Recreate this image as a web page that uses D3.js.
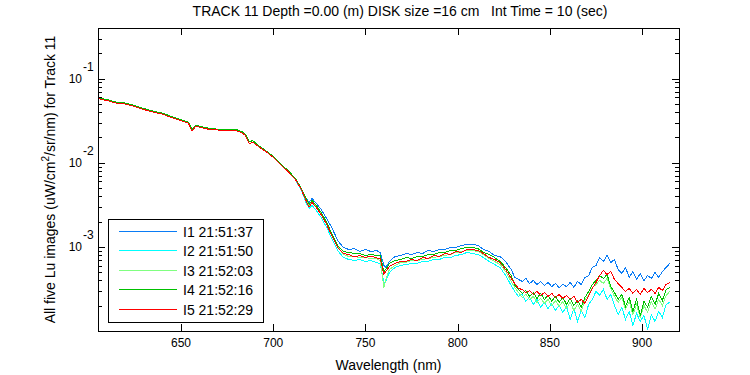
<!DOCTYPE html>
<html>
<head>
<meta charset="utf-8">
<script src="https://cdn.jsdelivr.net/npm/d3@7"></script>
<style>
body { margin: 0; background: #fff; }
text { font-family: "Liberation Sans", Arial, Helvetica, sans-serif; font-size: 14px; fill: #000; }
text.tick { font-size: 12px; }
</style>
</head>
<body>
<div class="chart"></div>
<script>
// wavelength (nm)
var wavelength = [
  605,610,615,620,625,630,635,640,645,650,654,656,658,662,666,670,675,680,683,685,687,689,692,696,700,704,708,712,715,718,719.5,721,723,726,729,732,735,
  738,741,744,747,750,753,756,758,760,761,763,766,769,772,775,778,781,784,787,790,793,796,799,802,805,808,811,814,817,820,823,826,829,
  831,833,835,837,839,841,843,845,847,849,851,853,855,857,859,861,863,865,867,869,871,873,875,877,879,881,883,885,887,889,891,893,895,897,899,901,903,905,907,909,911,913,915
];

// Lu (uW/cm^2/sr/nm), one list per image
var lu1 = [
  .0579,.0548,.0512,.0498,.0465,.0428,.0400,.0378,.0344,.0317,.0296,.0238,.0272,.0258,.0248,.0245,.0245,.0241,.0228,.0210,.0169,.0176,.0156,.0136,.0116,.00951,.00786,.00632,
  .00507,.00376,.00337,.00376,.00337,.00278,.00217,.00165,.00119,
  .000982,.000931,.000956,.000881,.000931,.000881,.000906,.000858,.000601,.000569,.000671,
  .000769,.000790,.000834,.000812,.000858,.000834,.000906,.000881,.000931,.000931,.000982,.000982,.00104,.00107,.00107,.00104,.000931,.000881,.000790,.000769,.000671,.000539,
  .000433,.000410,.000388,.000421,.000367,.000399,.000357,.000388,.000348,.000378,.000338,.000367,.000329,.000357,.000338,.000378,.000329,.000388,.000357,.000433,
  .000457,.000569,.000601,.000748,.000671,.000790,.000652,.000708,.000539,.000483,.000569,.000433,.000510,.000410,.000483,.000399,.000457,.000421,.000496,.000433,.000510,.000569,.000635
];
var lu2 = [
  .0590,.0548,.0512,.0498,.0465,.0428,.0400,.0378,.0344,.0317,.0296,.0238,.0272,.0258,.0248,.0245,.0245,.0241,.0228,.0210,.0169,.0176,.0156,.0136,.0116,.00951,.00786,.00632,
  .00480,.00328,.00286,.00310,.00278,.00223,.00170,.00122,.000906,
  .000748,.000708,.000689,.000708,.000671,.000689,.000652,.000635,.000378,.000388,.000496,
  .000569,.000601,.000618,.000635,.000635,.000671,.000671,.000708,.000708,.000748,.000748,.000790,.000812,.000858,.000834,.000812,.000748,.000671,.000618,.000569,.000457,.000348,
  .000295,.000258,.000272,.000225,.000251,.000207,.000237,.000191,.000219,.000185,.000213,.000176,.000201,.000166,.000196,.000137,.000185,.000130,.000176,.000145,
  .000207,.000237,.000295,.000265,.000312,.000237,.000272,.000201,.000157,.000191,.000137,.000171,.000116,.000162,.000130,.000153,.000104,.000157,.000130,.000171,.000145,.000207,.000219
];
var lu3 = [
  .0595,.0563,.0526,.0512,.0478,.0440,.0411,.0389,.0353,.0326,.0304,.0248,.0280,.0265,.0255,.0251,.0251,.0248,.0235,.0216,.0179,.0183,.0160,.0139,.0119,.00977,.00808,.00655,.00507,
  .00356,.00310,.00346,.00310,.00249,.00190,.00137,.00101,
  .000812,.000769,.000769,.000748,.000748,.000728,.000728,.000689,.000329,.000410,.000539,
  .000601,.000652,.000652,.000689,.000689,.000708,.000728,.000748,.000769,.000790,.000812,.000858,.000881,.000906,.000906,.000881,.000812,.000728,.000671,.000618,.000510,.000388,
  .000329,.000287,.000251,.000272,.000237,.000258,.000219,.000244,.000213,.000237,.000201,.000231,.000196,.000225,.000185,.000219,.000176,.000207,.000171,.000237,
  .000265,.000329,.000357,.000399,.000367,.000421,.000320,.000258,.000219,.000251,.000181,.000225,.000157,.000207,.000145,.000201,.000166,.000225,.000181,.000237,.000201,.000265,.000295
];
var lu4 = [
  .0595,.0563,.0526,.0512,.0478,.0440,.0411,.0389,.0353,.0326,.0304,.0248,.0280,.0265,.0255,.0251,.0251,.0248,.0235,.0216,.0179,.0183,.0160,.0139,.0119,.00977,.00808,.00655,.00507,
  .00366,.00319,.00356,.00319,.00256,.00195,.00140,.00104,
  .000881,.000858,.000834,.000834,.000790,.000812,.000790,.000790,.000510,.000539,.000635,
  .000689,.000708,.000748,.000728,.000769,.000769,.000812,.000812,.000858,.000858,.000906,.000906,.000956,.000982,.000982,.000956,.000858,.000812,.000748,.000671,.000569,.000457,
  .000348,.000312,.000280,.000303,.000258,.000287,.000244,.000280,.000237,.000265,.000225,.000258,.000219,.000251,.000207,.000244,.000201,.000231,.000191,.000251,
  .000295,.000357,.000399,.000457,.000421,.000470,.000338,.000287,.000237,.000272,.000196,.000251,.000171,.000237,.000153,.000225,.000191,.000258,.000207,.000280,.000231,.000312,.000329
];
var lu5 = [
  .0579,.0548,.0512,.0498,.0465,.0428,.0400,.0378,.0344,.0317,.0296,.0238,.0272,.0258,.0248,.0245,.0245,.0241,.0228,.0210,.0169,.0176,.0156,.0136,.0116,.00951,.00786,.00632,
  .00494,.00346,.00298,.00337,.00302,.00242,.00184,.00133,.000982,
  .000834,.000812,.000758,.000790,.000748,.000780,.000738,.000728,.000470,.000510,.000585,
  .000635,.000671,.000671,.000708,.000689,.000748,.000728,.000790,.000769,.000834,.000812,.000881,.000858,.000931,.000931,.000906,.000834,.000748,.000708,.000652,.000539,.000421,
  .000367,.000320,.000312,.000287,.000303,.000272,.000295,.000265,.000287,.000258,.000280,.000251,.000272,.000244,.000265,.000237,.000258,.000219,.000237,.000213,
  .000265,.000320,.000378,.000457,.000524,.000470,.000510,.000410,.000367,.000329,.000295,.000320,.000280,.000312,.000272,.000320,.000287,.000312,.000280,.000329,.000303,.000357,.000378
];

var seriesNames = ["I1 21:51:37", "I2 21:51:50", "I3 21:52:03", "I4 21:52:16", "I5 21:52:29"];
var seriesColors = ["#0a7cf5", "#00ffff", "#80ff80", "#00c000", "#ff0000"];
var xTickValues = [650, 700, 750, 800, 850, 900];
var yTickPowers = [-3, -2, -1];

var width = 750, height = 375;
var margin = {top: 28, right: 71, bottom: 44, left: 98};
var plotW = width - margin.left - margin.right,
    plotH = height - margin.top - margin.bottom;

var svg = d3.select(".chart").append("svg")
  .attr("width", width)
  .attr("height", height);

var x = d3.scaleLinear().domain([605, 920]).range([margin.left, margin.left + plotW]);
var y = d3.scaleLog().domain([1e-4, 0.4]).range([margin.top + plotH, margin.top]);

svg.append("clipPath").attr("id", "plotclip")
  .append("rect")
  .attr("x", margin.left).attr("y", margin.top)
  .attr("width", plotW).attr("height", plotH);

// series
var allSeries = [lu1, lu2, lu3, lu4, lu5];
var line = d3.line()
  .x(function(d) { return x(d[0]); })
  .y(function(d) { return y(d[1]); });

svg.append("g").attr("clip-path", "url(#plotclip)")
  .selectAll("path")
  .data(allSeries)
  .enter().append("path")
  .attr("d", function(s) { return line(wavelength.map(function(w, i) { return [w, s[i]]; })); })
  .attr("fill", "none")
  .attr("stroke", function(d, i) { return seriesColors[i]; })
  .attr("stroke-width", 1)
  .attr("shape-rendering", "crispEdges");

// axes (ticks inward, matlab style)
function styleAxis(g) {
  g.select(".domain").remove();
  g.selectAll("line").attr("stroke", "#000").attr("shape-rendering", "crispEdges");
  g.selectAll("text").remove();
}
var majors = yTickPowers.map(function(p) { return Math.pow(10, p); });
var minors = y.ticks().filter(function(t) { return majors.indexOf(t) < 0; });

svg.append("g").attr("transform", "translate(0," + (margin.top + plotH) + ")")
  .call(d3.axisBottom(x).tickValues(xTickValues).tickSize(-7)).call(styleAxis);
svg.append("g").attr("transform", "translate(0," + margin.top + ")")
  .call(d3.axisTop(x).tickValues(xTickValues).tickSize(-7)).call(styleAxis);
svg.append("g").attr("transform", "translate(" + margin.left + ",0)")
  .call(d3.axisLeft(y).tickValues(majors).tickSize(-7)).call(styleAxis);
svg.append("g").attr("transform", "translate(" + margin.left + ",0)")
  .call(d3.axisLeft(y).tickValues(minors).tickSize(-4)).call(styleAxis);
svg.append("g").attr("transform", "translate(" + (margin.left + plotW) + ",0)")
  .call(d3.axisRight(y).tickValues(majors).tickSize(-7)).call(styleAxis);
svg.append("g").attr("transform", "translate(" + (margin.left + plotW) + ",0)")
  .call(d3.axisRight(y).tickValues(minors).tickSize(-4)).call(styleAxis);

svg.append("rect")
  .attr("x", margin.left).attr("y", margin.top)
  .attr("width", plotW).attr("height", plotH)
  .attr("fill", "none").attr("stroke", "#000")
  .attr("shape-rendering", "crispEdges");

// tick labels
svg.selectAll(".xlab").data(xTickValues).enter().append("text")
  .attr("class", "xlab tick")
  .attr("x", function(d) { return x(d); })
  .attr("y", margin.top + plotH + 16)
  .attr("text-anchor", "middle")
  .text(function(d) { return d; });

var ylab = svg.selectAll(".ylab").data(yTickPowers).enter().append("g")
  .attr("class", "ylab")
  .attr("transform", function(d) { return "translate(0," + y(Math.pow(10, d)) + ")"; });
ylab.append("text").attr("class", "tick").attr("x", 82).attr("y", 4.5).attr("text-anchor", "end").text("10");
ylab.append("text").attr("class", "tick").attr("x", 83).attr("y", -8).text(function(d) { return d; });

// titles
svg.append("text")
  .attr("x", 400).attr("y", 16)
  .attr("text-anchor", "middle")
  .style("white-space", "pre")
  .text("TRACK 11 Depth =0.00 (m) DISK size =16 cm   Int Time = 10 (sec)");

svg.append("text")
  .attr("x", margin.left + plotW / 2).attr("y", 370)
  .attr("text-anchor", "middle")
  .text("Wavelength (nm)");

var yt = svg.append("text")
  .attr("transform", "translate(55," + (margin.top + plotH / 2) + ") rotate(-90)")
  .attr("text-anchor", "middle");
yt.append("tspan").text("All five Lu images (uW/cm");
yt.append("tspan").attr("dy", -6).style("font-size", "10px").text("2");
yt.append("tspan").attr("dy", 6).text("/sr/nm) for Track 11");

// legend
var legX = 108, legY = 219, legW = 155, legH = 103;
var leg = svg.append("g");
leg.append("rect")
  .attr("x", legX).attr("y", legY).attr("width", legW).attr("height", legH)
  .attr("fill", "#fff").attr("stroke", "#000").attr("shape-rendering", "crispEdges");
var item = leg.selectAll(".item").data(seriesNames).enter().append("g")
  .attr("class", "item")
  .attr("transform", function(d, i) { return "translate(0," + Math.round(legY + 12 + i * 19.4) + ")"; });
item.append("line")
  .attr("x1", 119).attr("x2", 177).attr("y1", 0.5).attr("y2", 0.5)
  .attr("stroke", function(d, i) { return seriesColors[i]; });
item.append("text").attr("x", 183).attr("y", 5.5).text(function(d) { return d; });
</script>
</body>
</html>
